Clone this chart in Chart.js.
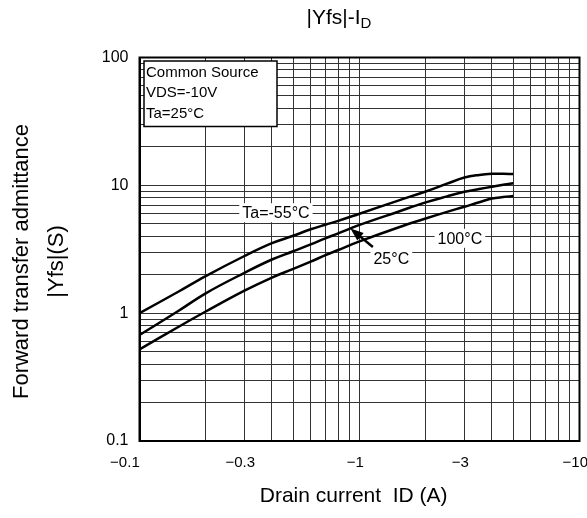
<!DOCTYPE html>
<html><head><meta charset="utf-8">
<script src="https://cdn.jsdelivr.net/npm/chart.js@4"></script>
<style>html,body{margin:0;padding:0;background:#fff;}</style>
</head><body>
<canvas id="c" width="587" height="518"></canvas>
<script>
// ---- data (|ID| in A, |Yfs| in S) ----
const drainCurrentA = [0.1, 0.15, 0.2, 0.3, 0.4, 0.5, 0.6, 0.7, 0.8, 1.0, 1.5, 2, 2.5, 3, 3.5, 4, 4.5, 5];
const yfsTaMinus55 = [1.0, 1.47, 1.95, 2.80, 3.53, 4.03, 4.53, 4.92, 5.27, 6.0, 7.6, 8.95, 10.3, 11.5, 12.05, 12.3, 12.3, 12.25];
const yfsTa25 = [0.675, 1.04, 1.43, 2.07, 2.63, 3.05, 3.45, 3.85, 4.21, 4.9, 6.22, 7.35, 8.2, 8.9, 9.35, 9.75, 10.1, 10.4];
const yfsTa100 = [0.52, 0.78, 1.03, 1.5, 1.9, 2.22, 2.53, 2.84, 3.12, 3.64, 4.68, 5.5, 6.2, 6.8, 7.38, 7.88, 8.1, 8.25];
const seriesNames = ['Ta=-55°C', '25°C', '100°C'];

const xLabeledTicks = [0.1, 0.3, 1, 3, 10];
const xTickLabels = ['−0.1', '−0.3', '−1', '−3', '−10'];
const yLabeledTicks = [0.1, 1, 10, 100];
const yTickLabels = ['0.1', '1', '10', '100'];

const titleMain = '|Yfs|-I';
const titleSub = 'D';
const xTitle = 'Drain current  ID (A)';
const yTitleLines = ['Forward transfer admittance', '|Yfs|(S)'];
const conditionLines = ['Common Source', 'VDS=-10V', 'Ta=25°C'];

// annotation anchors in data coordinates
const curveLabels = [
  {text: 'Ta=-55°C', x: 0.417, y: 6.11},
  {text: '100°C', x: 2.86, y: 3.85},
  {text: '25°C', x: 1.395, y: 2.69}
];
const arrowFrom = {x: 1.15, y: 3.29};
const arrowTo = {x: 0.91, y: 4.60};

const FONT = '"Liberation Sans", Arial, sans-serif';

function decadeGrid(min, max) {
  const out = [];
  for (let e = Math.round(Math.log10(min)); e < Math.round(Math.log10(max)); e++) {
    for (let m = 1; m < 10; m++) out.push(+(m * Math.pow(10, e)).toPrecision(3));
  }
  out.push(max);
  return out;
}
function labelFor(v, vals, labels) {
  for (let i = 0; i < vals.length; i++) if (Math.abs(vals[i] - v) / vals[i] < 1e-6) return labels[i];
  return '';
}
// x labels: number part centred on the grid line, first label kept left of the axis
function xLabel(v) {
  const t = labelFor(v, xLabeledTicks, xTickLabels);
  if (!t) return '';
  return Math.abs(v - xLabeledTicks[0]) < 1e-9 ? t + '       ' : t + '  ';
}
const mk = ys => drainCurrentA.map((x, i) => ({x, y: ys[i]}));

const decor = {
  id: 'decor',
  afterDraw(chart) {
    const {ctx, chartArea: a, scales: {x, y}} = chart;
    ctx.save();
    ctx.font = '16px ' + FONT;
    ctx.textAlign = 'center'; ctx.textBaseline = 'middle';
    curveLabels.forEach(l => {
      const px = x.getPixelForValue(l.x), py = y.getPixelForValue(l.y);
      const w = ctx.measureText(l.text).width;
      ctx.fillStyle = '#fff';
      ctx.fillRect(px - w / 2 - 3, py - 9.5, w + 6, 19);
      ctx.fillStyle = '#000';
      ctx.fillText(l.text, px, py + 1);
    });
    const x1 = x.getPixelForValue(arrowFrom.x), y1 = y.getPixelForValue(arrowFrom.y);
    const x2 = x.getPixelForValue(arrowTo.x), y2 = y.getPixelForValue(arrowTo.y);
    const ang = Math.atan2(y2 - y1, x2 - x1);
    const hl = 13, hw = 5;
    ctx.strokeStyle = '#000'; ctx.lineWidth = 2.5;
    ctx.beginPath(); ctx.moveTo(x1, y1);
    ctx.lineTo(x2 - hl * 0.8 * Math.cos(ang), y2 - hl * 0.8 * Math.sin(ang)); ctx.stroke();
    ctx.fillStyle = '#000';
    ctx.beginPath();
    ctx.moveTo(x2, y2);
    ctx.lineTo(x2 - hl * Math.cos(ang) + hw * Math.sin(ang), y2 - hl * Math.sin(ang) - hw * Math.cos(ang));
    ctx.lineTo(x2 - hl * Math.cos(ang) - hw * Math.sin(ang), y2 - hl * Math.sin(ang) + hw * Math.cos(ang));
    ctx.closePath(); ctx.fill();
    const bx = a.left + 4.5, by = a.top + 3.5, bw = 133, bh = 65.5;
    ctx.fillStyle = '#fff'; ctx.fillRect(bx, by, bw, bh);
    ctx.strokeStyle = '#000'; ctx.lineWidth = 1.5; ctx.strokeRect(bx, by, bw, bh);
    ctx.fillStyle = '#000'; ctx.font = '15px ' + FONT;
    ctx.textAlign = 'left'; ctx.textBaseline = 'middle';
    conditionLines.forEach((t, i) => ctx.fillText(t, bx + 2, by + 12 + i * 20.3));
    ctx.lineWidth = 2; ctx.strokeStyle = '#000';
    ctx.strokeRect(a.left, a.top, a.right - a.left, a.bottom - a.top);
    ctx.font = '21px ' + FONT; ctx.textBaseline = 'alphabetic'; ctx.textAlign = 'left';
    const wMain = ctx.measureText(titleMain).width;
    ctx.font = '15px ' + FONT;
    const wSub = ctx.measureText(titleSub).width;
    const tx = 339 - (wMain + wSub) / 2;
    ctx.font = '21px ' + FONT;
    ctx.fillText(titleMain, tx, 23.5);
    ctx.font = '15px ' + FONT;
    ctx.fillText(titleSub, tx + wMain, 27.5);
    ctx.restore();
  }
};

const lineStyle = {borderColor: '#000', borderWidth: 2.5, pointRadius: 0, fill: false, tension: 0.4};

new Chart(document.getElementById('c'), {
  type: 'line',
  data: {
    datasets: [
      Object.assign({label: seriesNames[0], data: mk(yfsTaMinus55)}, lineStyle),
      Object.assign({label: seriesNames[1], data: mk(yfsTa25)}, lineStyle),
      Object.assign({label: seriesNames[2], data: mk(yfsTa100)}, lineStyle)
    ]
  },
  options: {
    responsive: false,
    devicePixelRatio: 1,
    animation: false,
    layout: {padding: {top: 57.5, right: 7.5, left: 0, bottom: 0}},
    plugins: {legend: {display: false}, tooltip: {enabled: false}, title: {display: false}},
    scales: {
      x: {
        type: 'logarithmic', min: 0.1, max: 10,
        afterBuildTicks: s => { s.ticks = decadeGrid(0.1, 10).map(v => ({value: v})); },
        afterFit: s => { s.height = 77; s.paddingLeft = 0; s.paddingRight = 0; },
        grid: {color: '#333', lineWidth: 1, drawTicks: false},
        border: {display: true, color: '#000', width: 2},
        ticks: {autoSkip: false, maxRotation: 0, minRotation: 0, padding: 13, color: '#000',
          font: {family: FONT, size: 15},
          callback: v => xLabel(v)},
        title: {display: true, text: xTitle + '  ', color: '#000', font: {family: FONT, size: 21}, padding: {top: 0, bottom: 8.7}}
      },
      y: {
        type: 'logarithmic', min: 0.1, max: 100,
        afterBuildTicks: s => { s.ticks = decadeGrid(0.1, 100).map(v => ({value: v})); },
        afterFit: s => { s.width = 139.5; s.paddingTop = 0; s.paddingBottom = 0; },
        grid: {color: '#333', lineWidth: 1, drawTicks: false},
        border: {display: true, color: '#000', width: 2},
        ticks: {autoSkip: false, padding: 11, color: '#000',
          font: {family: FONT, size: 16},
          callback: v => labelFor(v, yLabeledTicks, yTickLabels)},
        title: {display: true, text: yTitleLines.map(t => t + '    '), color: '#000',
          font: {family: FONT, size: 22, lineHeight: '35px'}, padding: {top: 4.5, bottom: 0}}
      }
    }
  },
  plugins: [decor]
});
</script>
</body></html>
